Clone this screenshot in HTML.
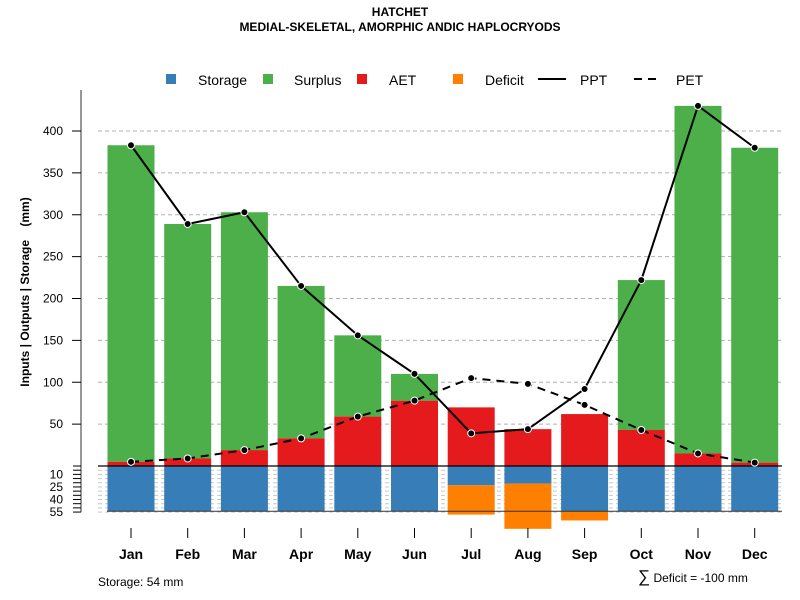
<!DOCTYPE html>
<html><head><meta charset="utf-8"><style>
body{margin:0;background:#fff}
svg{display:block;font-family:"Liberation Sans",sans-serif}
</style></head><body>
<svg id="c" width="800" height="600"></svg>
<script>
const months=["Jan","Feb","Mar","Apr","May","Jun","Jul","Aug","Sep","Oct","Nov","Dec"];
const ppt=[383,289,303,215,156,110,39,44,92,222,430,380];
const pet=[5,9,19,33,59,78,105,98,73,43,15,4];
const aet=[5,9,19,33,59,78,70,44,62,43,15,4];
const surplus=[378,280,284,182,97,32,0,0,0,179,415,376];
const storage=[54,54,54,54,54,54,23,21,54,54,54,54];
const deficit=[0,0,0,0,0,0,35,54,11,0,0,0];
const upperTicks=[50,100,150,200,250,300,350,400];
const lowerTicks=[10,25,40,55];

const NS="http://www.w3.org/2000/svg";
const svg=document.getElementById('c');
function mk(t,a,p){const e=document.createElementNS(NS,t);for(const k in a)e.setAttribute(k,a[k]);(p||svg).appendChild(e);return e;}
const Y0=466,K=0.8375;
const y=v=>Y0-v*K;
const yl=v=>Y0+v*K;
const x=i=>131+i*56.7;
const BW=47;

let t=mk('text',{x:400,y:16,'text-anchor':'middle','font-size':12,'font-weight':'bold'});t.textContent='HATCHET';

t=mk('text',{x:400,y:31,'text-anchor':'middle','font-size':12,'font-weight':'bold'});t.textContent='MEDIAL-SKELETAL, AMORPHIC ANDIC HAPLOCRYODS';


const lg=mk('g',{});
[["Storage","#377EB8",166,198],["Surplus","#4DAF4A",263,294],["AET","#E41A1C",357,389],["Deficit","#FF7F00",453,485]].forEach(d=>{
 const g=mk('g',{},lg);
 mk('rect',{x:d[2],y:74,width:10,height:10,fill:d[1]},g);
 const tt=mk('text',{x:d[3],y:85,'font-size':14},g);tt.textContent=d[0];});
let g=mk('g',{},lg);
mk('line',{x1:538,y1:79,x2:566,y2:79,stroke:'#000','stroke-width':2},g);
t=mk('text',{x:580,y:85,'font-size':14},g);t.textContent='PPT';
g=mk('g',{},lg);
mk('line',{x1:634,y1:79,x2:662,y2:79,stroke:'#000','stroke-width':2,'stroke-dasharray':'8,6'},g);
t=mk('text',{x:676,y:85,'font-size':14},g);t.textContent='PET';

const grid=mk('g',{});
upperTicks.forEach(v=>mk('line',{x1:98,x2:782,y1:y(v),y2:y(v),stroke:'#b0b0b0','stroke-dasharray':'4,3'},grid));
for(let v=0;v<=55;v+=5)mk('line',{x1:98,x2:782,y1:yl(v),y2:yl(v),stroke:'#c8c8c8','stroke-dasharray':'4,3'},grid);

months.forEach((m,i)=>{
 const bg=mk('g',{});
 if(surplus[i]>0){const r=mk('rect',{x:x(i)-BW/2,y:y(aet[i]+surplus[i]),width:BW,height:surplus[i]*K,fill:'#4DAF4A'},bg);}
 let r=mk('rect',{x:x(i)-BW/2,y:y(aet[i]),width:BW,height:aet[i]*K,fill:'#E41A1C'},bg);
 r=mk('rect',{x:x(i)-BW/2,y:Y0,width:BW,height:storage[i]*K,fill:'#377EB8'},bg);
 if(deficit[i]>0){r=mk('rect',{x:x(i)-BW/2,y:yl(storage[i]),width:BW,height:deficit[i]*K,fill:'#FF7F00'},bg);}
});
mk('line',{x1:98,x2:782,y1:Y0,y2:Y0,stroke:'#000','stroke-width':1.2});
mk('line',{x1:107,x2:782,y1:yl(54),y2:yl(54),stroke:'#333','stroke-width':1});

const lp=mk('polyline',{points:ppt.map((v,i)=>x(i)+','+y(v)).join(' '),fill:'none',stroke:'#000','stroke-width':2});

const le=mk('polyline',{points:pet.map((v,i)=>x(i)+','+y(v)).join(' '),fill:'none',stroke:'#000','stroke-width':2,'stroke-dasharray':'8,6'});

ppt.forEach((v,i)=>{const c=mk('circle',{cx:x(i),cy:y(v),r:3.5,fill:'#000',stroke:'#fff','stroke-width':1});});
pet.forEach((v,i)=>{const c=mk('circle',{cx:x(i),cy:y(v),r:3.5,fill:'#000',stroke:'#fff','stroke-width':1});});

const ax=mk('g',{});
mk('line',{x1:81,x2:81,y1:90,y2:yl(55),stroke:'#777','stroke-width':1.5},ax);
upperTicks.forEach(v=>{mk('line',{x1:72,x2:81,y1:y(v),y2:y(v),stroke:'#000'},ax);
 const tt=mk('text',{x:63,y:y(v)+4,'text-anchor':'end','font-size':12},ax);tt.textContent=v;});
for(let v=0;v<=55;v+=5)mk('line',{x1:73,x2:81,y1:yl(v),y2:yl(v),stroke:'#000'},ax);
lowerTicks.forEach(v=>{const tt=mk('text',{x:63,y:yl(v)+4,'text-anchor':'end','font-size':12},ax);tt.textContent=v;});
t=mk('text',{x:0,y:0,'font-size':12,'font-weight':'bold','text-anchor':'middle',transform:'translate(29,292) rotate(-90)'});
t.textContent='Inputs | Outputs | Storage    (mm)';t.setAttribute('xml:space','preserve');t.style.whiteSpace='pre';


const xa=mk('g',{});
months.forEach((m,i)=>{mk('line',{x1:x(i),x2:x(i),y1:528,y2:538,stroke:'#000'},xa);
 const tt=mk('text',{x:x(i),y:559,'text-anchor':'middle','font-size':14,'font-weight':'bold'},xa);tt.textContent=m;});

t=mk('text',{x:98,y:586,'font-size':12});t.textContent='Storage: 54 mm';
t=mk('text',{x:638,y:582,'font-size':12});
t.innerHTML='<tspan font-size="17">∑</tspan> Deficit = -100 mm';

</script>
</body></html>
